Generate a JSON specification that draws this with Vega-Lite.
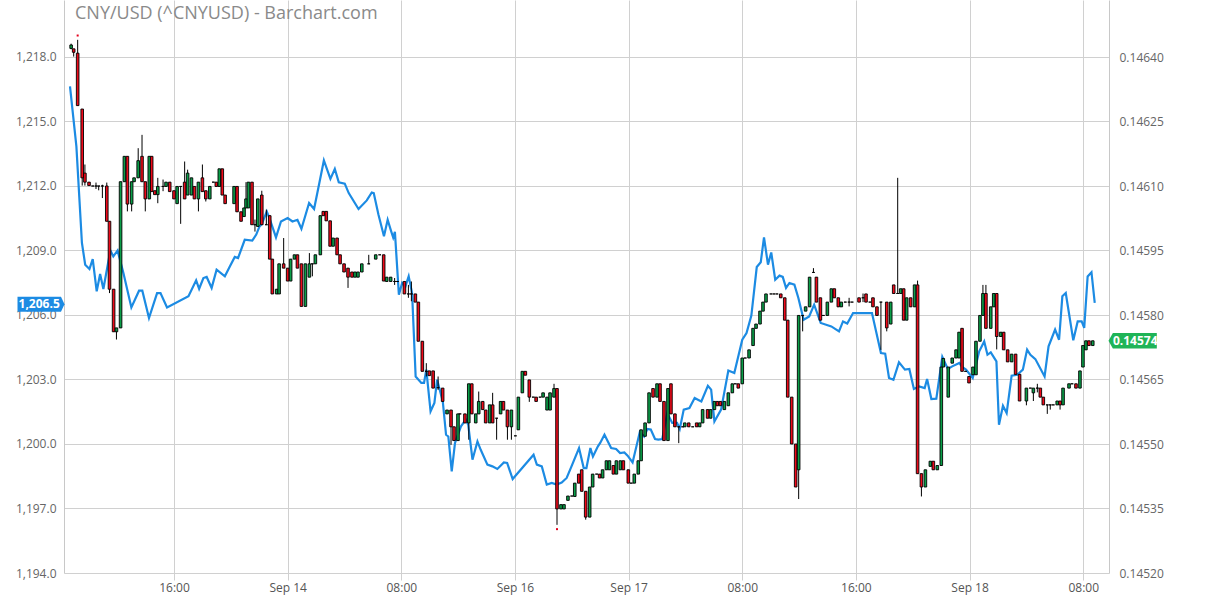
{
"$schema": "https://vega.github.io/schema/vega-lite/v6.json",
"width": 1045, "height": 573,
"autosize": {"type": "none"},
"padding": {"left": 64, "top": 0, "right": 103, "bottom": 23},
"background": "white",
"title": {"text": "CNY/USD (^CNYUSD) - Barchart.com", "anchor": "start", "frame": "group", "font": "Open Sans", "fontSize": 18, "fontWeight": "normal", "color": "#8a8a8a", "baseline": "alphabetic", "offset": 0, "dx": 11, "dy": 37},
"datasets": {
"gold": [
{"t":8.68,"v":1216.63},{"t":9.13,"v":1213.84},{"t":9.52,"v":1209.35},{"t":9.75,"v":1208.34},{"t":10.05,"v":1208.14},{"t":10.28,"v":1208.6},{"t":10.56,"v":1207.1},{"t":10.8,"v":1207.91},{"t":11.03,"v":1207.21},{"t":11.52,"v":1209.0},{"t":11.73,"v":1208.73},{"t":12.03,"v":1209.0},{"t":12.44,"v":1207.95},{"t":13.0,"v":1206.35},{"t":13.54,"v":1207.13},{"t":13.77,"v":1207.13},{"t":14.24,"v":1205.86},{"t":14.81,"v":1207.02},{"t":15.05,"v":1207.02},{"t":15.51,"v":1206.35},{"t":17.02,"v":1206.87},{"t":17.56,"v":1207.61},{"t":17.77,"v":1207.22},{"t":18.07,"v":1207.72},{"t":18.3,"v":1207.77},{"t":18.65,"v":1207.26},{"t":19.0,"v":1208.11},{"t":19.58,"v":1207.8},{"t":19.93,"v":1208.26},{"t":20.28,"v":1208.7},{"t":20.51,"v":1208.65},{"t":20.98,"v":1209.5},{"t":21.51,"v":1209.46},{"t":21.79,"v":1209.74},{"t":22.02,"v":1210.12},{"t":22.18,"v":1210.23},{"t":22.53,"v":1210.82},{"t":22.72,"v":1210.51},{"t":23.18,"v":1209.61},{"t":23.53,"v":1210.35},{"t":24.0,"v":1210.51},{"t":24.34,"v":1210.35},{"t":24.69,"v":1210.43},{"t":24.97,"v":1210.01},{"t":25.51,"v":1211.21},{"t":25.86,"v":1210.93},{"t":26.16,"v":1211.91},{"t":26.55,"v":1213.19},{"t":27.01,"v":1212.33},{"t":27.32,"v":1212.79},{"t":27.6,"v":1212.17},{"t":28.02,"v":1212.11},{"t":28.3,"v":1211.67},{"t":28.99,"v":1210.93},{"t":29.57,"v":1211.33},{"t":29.92,"v":1211.7},{"t":30.06,"v":1211.67},{"t":30.39,"v":1210.67},{"t":30.78,"v":1209.66},{"t":31.04,"v":1210.43},{"t":31.25,"v":1209.97},{"t":31.43,"v":1209.6},{"t":31.55,"v":1209.87},{"t":31.83,"v":1206.94},{"t":32.06,"v":1207.49},{"t":32.29,"v":1207.33},{"t":32.52,"v":1207.8},{"t":32.76,"v":1207.02},{"t":33.01,"v":1203.14},{"t":33.41,"v":1202.84},{"t":33.6,"v":1202.84},{"t":33.76,"v":1203.46},{"t":34.06,"v":1201.52},{"t":34.33,"v":1201.91},{"t":34.52,"v":1202.99},{"t":34.92,"v":1201.98},{"t":35.15,"v":1200.43},{"t":35.31,"v":1200.35},{"t":35.55,"v":1198.73},{"t":35.78,"v":1200.05},{"t":36.2,"v":1200.82},{"t":36.54,"v":1201.13},{"t":36.71,"v":1200.9},{"t":37.01,"v":1199.27},{"t":37.36,"v":1200.12},{"t":37.59,"v":1199.73},{"t":38.06,"v":1199.04},{"t":38.41,"v":1198.96},{"t":38.76,"v":1198.84},{"t":39.22,"v":1199.14},{"t":39.45,"v":1199.12},{"t":39.84,"v":1198.37},{"t":41.31,"v":1199.5},{"t":41.54,"v":1199.04},{"t":41.89,"v":1198.96},{"t":42.24,"v":1198.11},{"t":42.59,"v":1198.19},{"t":42.94,"v":1198.11},{"t":43.29,"v":1198.21},{"t":43.64,"v":1198.42},{"t":43.98,"v":1198.96},{"t":44.51,"v":1199.81},{"t":44.84,"v":1198.88},{"t":45.03,"v":1198.88},{"t":45.31,"v":1199.81},{"t":45.49,"v":1199.42},{"t":45.84,"v":1199.89},{"t":46.0,"v":1200.05},{"t":46.3,"v":1200.43},{"t":46.77,"v":1199.81},{"t":47.12,"v":1199.77},{"t":47.4,"v":1199.58},{"t":47.7,"v":1199.61},{"t":47.93,"v":1199.46},{"t":48.28,"v":1199.14},{"t":48.79,"v":1200.56},{"t":49.09,"v":1200.35},{"t":49.32,"v":1200.7},{"t":49.56,"v":1200.67},{"t":49.86,"v":1200.23},{"t":50.09,"v":1200.2},{"t":50.37,"v":1200.23},{"t":50.72,"v":1201.44},{"t":51.07,"v":1200.98},{"t":51.41,"v":1200.98},{"t":51.6,"v":1200.7},{"t":51.88,"v":1201.6},{"t":52.28,"v":1201.67},{"t":52.65,"v":1202.14},{"t":52.88,"v":1202.06},{"t":53.12,"v":1201.98},{"t":53.58,"v":1202.71},{"t":53.81,"v":1202.53},{"t":54.04,"v":1201.05},{"t":54.51,"v":1201.6},{"t":55.02,"v":1203.42},{"t":55.44,"v":1203.3},{"t":56.0,"v":1204.85},{"t":56.3,"v":1205.16},{"t":56.64,"v":1205.97},{"t":57.02,"v":1208.23},{"t":57.3,"v":1208.45},{"t":57.53,"v":1209.61},{"t":57.81,"v":1208.34},{"t":58.04,"v":1208.91},{"t":58.32,"v":1207.64},{"t":58.62,"v":1207.83},{"t":58.85,"v":1207.77},{"t":59.08,"v":1207.26},{"t":59.32,"v":1207.49},{"t":59.67,"v":1207.41},{"t":59.95,"v":1206.79},{"t":60.32,"v":1205.78},{"t":60.71,"v":1205.93},{"t":61.06,"v":1206.48},{"t":61.52,"v":1205.63},{"t":62.27,"v":1205.47},{"t":62.81,"v":1205.24},{"t":63.09,"v":1205.7},{"t":63.39,"v":1205.6},{"t":63.8,"v":1206.09},{"t":65.13,"v":1206.09},{"t":65.76,"v":1204.23},{"t":66.06,"v":1204.2},{"t":66.33,"v":1203.07},{"t":66.64,"v":1202.99},{"t":67.03,"v":1203.8},{"t":67.45,"v":1203.46},{"t":67.76,"v":1203.49},{"t":68.08,"v":1202.56},{"t":68.45,"v":1202.68},{"t":68.84,"v":1202.6},{"t":69.01,"v":1203.02},{"t":69.31,"v":1202.09},{"t":69.66,"v":1202.11},{"t":70.08,"v":1204.05},{"t":70.47,"v":1203.49},{"t":70.78,"v":1203.61},{"t":71.28,"v":1203.77},{"t":71.47,"v":1203.58},{"t":71.75,"v":1203.46},{"t":72.22,"v":1203.07},{"t":72.68,"v":1204.31},{"t":73.03,"v":1204.77},{"t":73.26,"v":1204.15},{"t":73.49,"v":1204.26},{"t":73.89,"v":1203.84},{"t":74.07,"v":1200.9},{"t":74.35,"v":1201.78},{"t":74.61,"v":1201.44},{"t":74.96,"v":1203.18},{"t":75.36,"v":1203.22},{"t":75.75,"v":1203.46},{"t":76.05,"v":1204.39},{"t":76.28,"v":1204.15},{"t":76.63,"v":1203.95},{"t":77.28,"v":1203.14},{"t":77.56,"v":1204.54},{"t":78.02,"v":1205.32},{"t":78.3,"v":1204.85},{"t":78.53,"v":1206.87},{"t":78.77,"v":1207.02},{"t":79.3,"v":1204.82},{"t":79.61,"v":1205.7},{"t":79.89,"v":1205.7},{"t":80.07,"v":1205.4},{"t":80.31,"v":1207.79},{"t":80.58,"v":1207.99},{"t":80.81,"v":1206.56}
],
"candles": [
{"t":8.76,"o":0.14642,"h":0.146431,"l":0.146418,"c":0.146428},
{"t":8.94,"o":0.146419,"h":0.146419,"l":0.146401,"c":0.146411},
{"t":9.22,"o":0.146409,"h":0.14644,"l":0.146287,"c":0.146287},
{"t":9.54,"o":0.146279,"h":0.146279,"l":0.146101,"c":0.146119},
{"t":9.73,"o":0.14613,"h":0.14615,"l":0.146101,"c":0.146109},
{"t":10.02,"o":0.146109,"h":0.146109,"l":0.146101,"c":0.146101},
{"t":10.28,"o":0.1461,"h":0.1461,"l":0.1461,"c":0.1461},
{"t":10.51,"o":0.1461,"h":0.146108,"l":0.146093,"c":0.1461},
{"t":10.7,"o":0.1461,"h":0.1461,"l":0.14609,"c":0.1461},
{"t":10.96,"o":0.1461,"h":0.146103,"l":0.146072,"c":0.1461},
{"t":11.27,"o":0.1461,"h":0.146108,"l":0.146018,"c":0.146018},
{"t":11.46,"o":0.146018,"h":0.146018,"l":0.145851,"c":0.14586},
{"t":11.75,"o":0.14586,"h":0.14586,"l":0.145761,"c":0.145761},
{"t":11.95,"o":0.145761,"h":0.14577,"l":0.145743,"c":0.14577},
{"t":12.24,"o":0.14577,"h":0.14611,"l":0.14577,"c":0.14611},
{"t":12.51,"o":0.14611,"h":0.146169,"l":0.14611,"c":0.146169},
{"t":12.72,"o":0.146169,"h":0.146169,"l":0.146041,"c":0.146058},
{"t":13.02,"o":0.146058,"h":0.14611,"l":0.146041,"c":0.14611},
{"t":13.19,"o":0.14611,"h":0.146119,"l":0.14611,"c":0.146119},
{"t":13.48,"o":0.146119,"h":0.146188,"l":0.146119,"c":0.146159},
{"t":13.75,"o":0.146169,"h":0.146219,"l":0.14611,"c":0.14611},
{"t":13.98,"o":0.14611,"h":0.14611,"l":0.146041,"c":0.14607},
{"t":14.26,"o":0.14607,"h":0.146169,"l":0.14607,"c":0.146169},
{"t":14.43,"o":0.146169,"h":0.146169,"l":0.146087,"c":0.146087},
{"t":14.65,"o":0.146089,"h":0.146089,"l":0.14608,"c":0.14608},
{"t":14.86,"o":0.14608,"h":0.146119,"l":0.14606,"c":0.146099},
{"t":15.23,"o":0.146099,"h":0.146115,"l":0.146088,"c":0.146099},
{"t":15.44,"o":0.146099,"h":0.146109,"l":0.146099,"c":0.146109},
{"t":15.7,"o":0.146109,"h":0.146109,"l":0.146087,"c":0.146087},
{"t":16.0,"o":0.146089,"h":0.146089,"l":0.14607,"c":0.14607},
{"t":16.22,"o":0.146059,"h":0.146099,"l":0.146059,"c":0.146099},
{"t":16.47,"o":0.146099,"h":0.146099,"l":0.146012,"c":0.146099},
{"t":16.75,"o":0.146109,"h":0.146157,"l":0.14607,"c":0.14607},
{"t":16.96,"o":0.146079,"h":0.146138,"l":0.146079,"c":0.14613},
{"t":17.23,"o":0.146079,"h":0.146119,"l":0.146079,"c":0.146119},
{"t":17.44,"o":0.146099,"h":0.146099,"l":0.14607,"c":0.14607},
{"t":17.72,"o":0.14607,"h":0.146109,"l":0.146041,"c":0.146109},
{"t":18.0,"o":0.146119,"h":0.14615,"l":0.146087,"c":0.146087},
{"t":18.24,"o":0.146089,"h":0.146089,"l":0.146064,"c":0.14607},
{"t":18.52,"o":0.14607,"h":0.146099,"l":0.14607,"c":0.146099},
{"t":18.77,"o":0.146109,"h":0.146109,"l":0.146109,"c":0.146109},
{"t":18.98,"o":0.146109,"h":0.146109,"l":0.146099,"c":0.146099},
{"t":19.19,"o":0.146099,"h":0.14614,"l":0.146099,"c":0.14614},
{"t":19.4,"o":0.14614,"h":0.14614,"l":0.146079,"c":0.146079},
{"t":19.6,"o":0.146079,"h":0.146079,"l":0.146059,"c":0.146059},
{"t":20.23,"o":0.146059,"h":0.146099,"l":0.146059,"c":0.146099},
{"t":20.44,"o":0.146099,"h":0.146099,"l":0.14604,"c":0.14604},
{"t":20.72,"o":0.14604,"h":0.14604,"l":0.146018,"c":0.146018},
{"t":20.93,"o":0.146029,"h":0.146049,"l":0.146029,"c":0.146049},
{"t":21.07,"o":0.146049,"h":0.146109,"l":0.146049,"c":0.14607},
{"t":21.24,"o":0.146049,"h":0.146109,"l":0.146049,"c":0.146109},
{"t":21.49,"o":0.146109,"h":0.146109,"l":0.14601,"c":0.14601},
{"t":21.7,"o":0.14601,"h":0.146022,"l":0.145994,"c":0.14601},
{"t":21.9,"o":0.146006,"h":0.14607,"l":0.146006,"c":0.14607},
{"t":22.18,"o":0.146079,"h":0.146089,"l":0.14601,"c":0.14601},
{"t":22.5,"o":0.14601,"h":0.146045,"l":0.14601,"c":0.14601},
{"t":22.74,"o":0.146031,"h":0.146031,"l":0.14593,"c":0.14593},
{"t":22.92,"o":0.14593,"h":0.14593,"l":0.145849,"c":0.145849},
{"t":23.23,"o":0.145849,"h":0.14586,"l":0.145849,"c":0.14586},
{"t":23.4,"o":0.145849,"h":0.145919,"l":0.145849,"c":0.145919},
{"t":23.72,"o":0.145919,"h":0.145979,"l":0.145909,"c":0.145909},
{"t":24.0,"o":0.145909,"h":0.145909,"l":0.145879,"c":0.145879},
{"t":24.21,"o":0.145879,"h":0.14593,"l":0.145879,"c":0.14593},
{"t":24.48,"o":0.14593,"h":0.14594,"l":0.14593,"c":0.14594},
{"t":24.69,"o":0.14594,"h":0.14594,"l":0.145909,"c":0.145909},
{"t":24.97,"o":0.145919,"h":0.145919,"l":0.14582,"c":0.14582},
{"t":25.25,"o":0.14582,"h":0.145919,"l":0.14582,"c":0.145919},
{"t":25.53,"o":0.145888,"h":0.145944,"l":0.145888,"c":0.145919},
{"t":25.74,"o":0.145919,"h":0.145919,"l":0.14589,"c":0.145919},
{"t":25.95,"o":0.145919,"h":0.14594,"l":0.145919,"c":0.14594},
{"t":26.3,"o":0.14594,"h":0.146031,"l":0.14594,"c":0.146031},
{"t":26.51,"o":0.146041,"h":0.146041,"l":0.146031,"c":0.146031},
{"t":26.72,"o":0.146041,"h":0.146041,"l":0.146019,"c":0.146019},
{"t":26.99,"o":0.146019,"h":0.146019,"l":0.14596,"c":0.14596},
{"t":27.2,"o":0.14596,"h":0.145979,"l":0.14596,"c":0.145979},
{"t":27.48,"o":0.145979,"h":0.145979,"l":0.14594,"c":0.14594},
{"t":27.69,"o":0.14594,"h":0.14594,"l":0.145919,"c":0.145919},
{"t":27.97,"o":0.145919,"h":0.145919,"l":0.1459,"c":0.1459},
{"t":28.25,"o":0.145909,"h":0.145909,"l":0.145863,"c":0.145888},
{"t":28.53,"o":0.1459,"h":0.1459,"l":0.145888,"c":0.145888},
{"t":28.74,"o":0.145888,"h":0.1459,"l":0.145888,"c":0.1459},
{"t":28.95,"o":0.145888,"h":0.1459,"l":0.145888,"c":0.1459},
{"t":29.22,"o":0.1459,"h":0.145919,"l":0.1459,"c":0.145919},
{"t":29.71,"o":0.145919,"h":0.14594,"l":0.145919,"c":0.145919},
{"t":30.2,"o":0.14593,"h":0.14594,"l":0.14593,"c":0.14594},
{"t":30.48,"o":0.14594,"h":0.14594,"l":0.14594,"c":0.14594},
{"t":30.76,"o":0.14594,"h":0.14594,"l":0.145879,"c":0.145879},
{"t":30.97,"o":0.145878,"h":0.145888,"l":0.145878,"c":0.145888},
{"t":31.25,"o":0.145878,"h":0.145888,"l":0.145878,"c":0.145888},
{"t":31.53,"o":0.145878,"h":0.145886,"l":0.14587,"c":0.145878},
{"t":31.73,"o":0.145878,"h":0.145878,"l":0.145878,"c":0.145878},
{"t":32.22,"o":0.145878,"h":0.145878,"l":0.145849,"c":0.145849},
{"t":32.5,"o":0.145849,"h":0.14587,"l":0.14584,"c":0.145849},
{"t":32.71,"o":0.145849,"h":0.145878,"l":0.145832,"c":0.145849},
{"t":32.99,"o":0.145849,"h":0.145849,"l":0.14583,"c":0.14583},
{"t":33.2,"o":0.14583,"h":0.14583,"l":0.145739,"c":0.145739},
{"t":33.48,"o":0.145739,"h":0.145739,"l":0.145669,"c":0.145669},
{"t":33.76,"o":0.145669,"h":0.145688,"l":0.145657,"c":0.145669},
{"t":33.97,"o":0.14567,"h":0.14567,"l":0.145659,"c":0.145659},
{"t":34.24,"o":0.14567,"h":0.14567,"l":0.14563,"c":0.14563},
{"t":34.59,"o":0.145631,"h":0.145657,"l":0.145626,"c":0.145631},
{"t":34.91,"o":0.14563,"h":0.14563,"l":0.145599,"c":0.145599},
{"t":35.22,"o":0.14557,"h":0.145579,"l":0.14557,"c":0.145579},
{"t":35.5,"o":0.145579,"h":0.145579,"l":0.145498,"c":0.14554},
{"t":35.71,"o":0.14554,"h":0.14554,"l":0.145508,"c":0.145508},
{"t":35.99,"o":0.145508,"h":0.14557,"l":0.145508,"c":0.14557},
{"t":36.13,"o":0.14557,"h":0.14557,"l":0.14557,"c":0.14557},
{"t":36.48,"o":0.14557,"h":0.14557,"l":0.145549,"c":0.145549},
{"t":36.75,"o":0.145549,"h":0.14564,"l":0.14551,"c":0.14564},
{"t":36.96,"o":0.14564,"h":0.14564,"l":0.14557,"c":0.14557},
{"t":37.24,"o":0.145549,"h":0.14557,"l":0.145549,"c":0.14557},
{"t":37.45,"o":0.14557,"h":0.145622,"l":0.14557,"c":0.145599},
{"t":37.73,"o":0.145599,"h":0.145599,"l":0.14558,"c":0.14558},
{"t":37.94,"o":0.145579,"h":0.145579,"l":0.145549,"c":0.145549},
{"t":38.22,"o":0.145549,"h":0.145591,"l":0.145549,"c":0.145591},
{"t":38.43,"o":0.145591,"h":0.145619,"l":0.145549,"c":0.145549},
{"t":38.71,"o":0.14556,"h":0.14556,"l":0.14551,"c":0.14556},
{"t":38.99,"o":0.14557,"h":0.145599,"l":0.14557,"c":0.145599},
{"t":39.19,"o":0.145599,"h":0.145599,"l":0.145579,"c":0.145579},
{"t":39.47,"o":0.145579,"h":0.145579,"l":0.14551,"c":0.14554},
{"t":39.75,"o":0.14554,"h":0.145579,"l":0.14551,"c":0.145579},
{"t":40.03,"o":0.145519,"h":0.145519,"l":0.145519,"c":0.145519},
{"t":40.24,"o":0.145533,"h":0.145609,"l":0.145533,"c":0.145609},
{"t":40.52,"o":0.145619,"h":0.145669,"l":0.145619,"c":0.145669},
{"t":40.73,"o":0.145669,"h":0.145669,"l":0.14566,"c":0.14566},
{"t":41.01,"o":0.145649,"h":0.145649,"l":0.145598,"c":0.145609},
{"t":41.29,"o":0.145609,"h":0.145609,"l":0.145609,"c":0.145609},
{"t":41.49,"o":0.145609,"h":0.145609,"l":0.145599,"c":0.145599},
{"t":41.77,"o":0.145609,"h":0.145609,"l":0.145609,"c":0.145609},
{"t":41.98,"o":0.145609,"h":0.145619,"l":0.145609,"c":0.145619},
{"t":42.26,"o":0.145579,"h":0.145609,"l":0.145579,"c":0.145609},
{"t":42.47,"o":0.145579,"h":0.145619,"l":0.145579,"c":0.145619},
{"t":42.75,"o":0.145609,"h":0.14564,"l":0.145609,"c":0.145629},
{"t":42.96,"o":0.145629,"h":0.145629,"l":0.145312,"c":0.145349},
{"t":43.24,"o":0.145349,"h":0.145359,"l":0.145349,"c":0.145359},
{"t":43.45,"o":0.145349,"h":0.145359,"l":0.145349,"c":0.145359},
{"t":43.73,"o":0.145369,"h":0.145379,"l":0.145369,"c":0.145379},
{"t":44.0,"o":0.145379,"h":0.145379,"l":0.145379,"c":0.145379},
{"t":44.21,"o":0.145378,"h":0.145409,"l":0.145378,"c":0.145409},
{"t":44.49,"o":0.14543,"h":0.14543,"l":0.145409,"c":0.145409},
{"t":44.7,"o":0.14544,"h":0.14544,"l":0.14539,"c":0.14539},
{"t":44.98,"o":0.14539,"h":0.14539,"l":0.145324,"c":0.14533},
{"t":45.26,"o":0.14533,"h":0.1454,"l":0.14533,"c":0.1454},
{"t":45.47,"o":0.1454,"h":0.14543,"l":0.1454,"c":0.14543},
{"t":45.75,"o":0.14543,"h":0.14543,"l":0.14543,"c":0.14543},
{"t":45.96,"o":0.14543,"h":0.14543,"l":0.145421,"c":0.145421},
{"t":46.17,"o":0.145421,"h":0.14544,"l":0.145421,"c":0.14544},
{"t":46.44,"o":0.14544,"h":0.145461,"l":0.14544,"c":0.145461},
{"t":46.65,"o":0.14544,"h":0.145461,"l":0.14544,"c":0.145461},
{"t":46.93,"o":0.14545,"h":0.14545,"l":0.14543,"c":0.14543},
{"t":47.14,"o":0.14543,"h":0.145461,"l":0.14543,"c":0.145461},
{"t":47.42,"o":0.14544,"h":0.145461,"l":0.14544,"c":0.145461},
{"t":47.63,"o":0.145461,"h":0.145461,"l":0.14544,"c":0.14544},
{"t":47.98,"o":0.14544,"h":0.14544,"l":0.145409,"c":0.145409},
{"t":48.19,"o":0.145409,"h":0.145409,"l":0.145409,"c":0.145409},
{"t":48.4,"o":0.145409,"h":0.14543,"l":0.145409,"c":0.14543},
{"t":48.68,"o":0.14543,"h":0.145461,"l":0.14543,"c":0.145461},
{"t":48.88,"o":0.145461,"h":0.145533,"l":0.145461,"c":0.145533},
{"t":49.16,"o":0.145518,"h":0.145549,"l":0.145518,"c":0.145549},
{"t":49.44,"o":0.145549,"h":0.145619,"l":0.145549,"c":0.145619},
{"t":49.72,"o":0.145629,"h":0.145629,"l":0.145609,"c":0.145609},
{"t":50.0,"o":0.145609,"h":0.14564,"l":0.145609,"c":0.14564},
{"t":50.21,"o":0.14564,"h":0.14564,"l":0.145599,"c":0.145599},
{"t":50.49,"o":0.145599,"h":0.145599,"l":0.145508,"c":0.145508},
{"t":50.77,"o":0.145508,"h":0.145629,"l":0.145508,"c":0.145629},
{"t":50.98,"o":0.14564,"h":0.14564,"l":0.14557,"c":0.14557},
{"t":51.26,"o":0.14557,"h":0.14557,"l":0.14554,"c":0.14554},
{"t":51.53,"o":0.14554,"h":0.14554,"l":0.145502,"c":0.14554},
{"t":51.81,"o":0.14554,"h":0.14554,"l":0.14554,"c":0.14554},
{"t":51.95,"o":0.14554,"h":0.145549,"l":0.14554,"c":0.145549},
{"t":52.23,"o":0.145549,"h":0.145549,"l":0.14554,"c":0.14554},
{"t":52.51,"o":0.14554,"h":0.14554,"l":0.14554,"c":0.14554},
{"t":52.79,"o":0.145549,"h":0.145549,"l":0.14554,"c":0.14554},
{"t":53.0,"o":0.14554,"h":0.145549,"l":0.14554,"c":0.145549},
{"t":53.21,"o":0.145549,"h":0.14558,"l":0.145549,"c":0.14558},
{"t":53.56,"o":0.14558,"h":0.14558,"l":0.14556,"c":0.14556},
{"t":53.77,"o":0.14556,"h":0.14558,"l":0.14556,"c":0.14558},
{"t":54.04,"o":0.14558,"h":0.145599,"l":0.14558,"c":0.145599},
{"t":54.25,"o":0.145599,"h":0.145599,"l":0.145589,"c":0.145589},
{"t":54.46,"o":0.145599,"h":0.145599,"l":0.145589,"c":0.145589},
{"t":54.74,"o":0.14558,"h":0.145599,"l":0.14558,"c":0.145599},
{"t":55.02,"o":0.145589,"h":0.145619,"l":0.145589,"c":0.145619},
{"t":55.3,"o":0.145619,"h":0.14564,"l":0.145619,"c":0.14564},
{"t":55.51,"o":0.14564,"h":0.14564,"l":0.14564,"c":0.14564},
{"t":55.72,"o":0.14564,"h":0.14564,"l":0.14563,"c":0.14563},
{"t":56.0,"o":0.14564,"h":0.1457,"l":0.14564,"c":0.1457},
{"t":56.21,"o":0.1457,"h":0.1457,"l":0.1457,"c":0.1457},
{"t":56.48,"o":0.1457,"h":0.145719,"l":0.1457,"c":0.145719},
{"t":56.76,"o":0.145729,"h":0.145769,"l":0.145729,"c":0.145769},
{"t":56.97,"o":0.145769,"h":0.145779,"l":0.145769,"c":0.145779},
{"t":57.25,"o":0.145779,"h":0.145809,"l":0.145779,"c":0.145809},
{"t":57.46,"o":0.145809,"h":0.14583,"l":0.145809,"c":0.14583},
{"t":57.67,"o":0.14583,"h":0.145849,"l":0.14583,"c":0.145849},
{"t":58.02,"o":0.145849,"h":0.145849,"l":0.145849,"c":0.145849},
{"t":58.23,"o":0.145849,"h":0.145849,"l":0.145849,"c":0.145849},
{"t":58.44,"o":0.145849,"h":0.145849,"l":0.145849,"c":0.145849},
{"t":58.71,"o":0.145849,"h":0.145849,"l":0.14584,"c":0.14584},
{"t":58.99,"o":0.14584,"h":0.14584,"l":0.145788,"c":0.145788},
{"t":59.2,"o":0.145788,"h":0.145788,"l":0.145609,"c":0.145609},
{"t":59.48,"o":0.145609,"h":0.145609,"l":0.1455,"c":0.1455},
{"t":59.76,"o":0.1455,"h":0.1455,"l":0.1454,"c":0.1454},
{"t":59.97,"o":0.14544,"h":0.145799,"l":0.145372,"c":0.145799},
{"t":60.25,"o":0.145799,"h":0.145799,"l":0.145762,"c":0.145799},
{"t":60.46,"o":0.145809,"h":0.145819,"l":0.145809,"c":0.145819},
{"t":60.74,"o":0.145819,"h":0.145888,"l":0.145819,"c":0.145888},
{"t":61.01,"o":0.145899,"h":0.145909,"l":0.145899,"c":0.145899},
{"t":61.22,"o":0.145888,"h":0.145888,"l":0.14583,"c":0.14583},
{"t":61.5,"o":0.14584,"h":0.14584,"l":0.145788,"c":0.145788},
{"t":61.71,"o":0.145799,"h":0.145799,"l":0.145799,"c":0.145799},
{"t":61.99,"o":0.145799,"h":0.14583,"l":0.145799,"c":0.14583},
{"t":62.27,"o":0.14583,"h":0.145861,"l":0.14583,"c":0.145861},
{"t":62.48,"o":0.145861,"h":0.145861,"l":0.14584,"c":0.14584},
{"t":62.76,"o":0.14584,"h":0.14584,"l":0.145819,"c":0.145819},
{"t":62.97,"o":0.145819,"h":0.14583,"l":0.145819,"c":0.14583},
{"t":63.25,"o":0.14583,"h":0.14583,"l":0.14583,"c":0.14583},
{"t":63.52,"o":0.14583,"h":0.14584,"l":0.14582,"c":0.14583},
{"t":63.73,"o":0.14583,"h":0.14583,"l":0.14583,"c":0.14583},
{"t":64.22,"o":0.14584,"h":0.14584,"l":0.14583,"c":0.14583},
{"t":64.5,"o":0.14584,"h":0.14585,"l":0.14583,"c":0.14584},
{"t":64.71,"o":0.145849,"h":0.145849,"l":0.14583,"c":0.14583},
{"t":64.99,"o":0.14583,"h":0.14583,"l":0.14583,"c":0.14583},
{"t":65.2,"o":0.14584,"h":0.14584,"l":0.145819,"c":0.145819},
{"t":65.48,"o":0.145819,"h":0.145819,"l":0.145799,"c":0.145799},
{"t":65.76,"o":0.14583,"h":0.14583,"l":0.145719,"c":0.14583},
{"t":66.17,"o":0.14583,"h":0.14583,"l":0.145762,"c":0.14577},
{"t":66.45,"o":0.145779,"h":0.14583,"l":0.145779,"c":0.14583},
{"t":66.66,"o":0.14587,"h":0.14587,"l":0.14585,"c":0.14585},
{"t":66.94,"o":0.14585,"h":0.146119,"l":0.14585,"c":0.14585},
{"t":67.15,"o":0.14585,"h":0.145861,"l":0.14585,"c":0.145861},
{"t":67.36,"o":0.145861,"h":0.145861,"l":0.145788,"c":0.145788},
{"t":67.57,"o":0.145788,"h":0.14584,"l":0.145788,"c":0.14584},
{"t":67.85,"o":0.14584,"h":0.14584,"l":0.145819,"c":0.145819},
{"t":68.13,"o":0.145819,"h":0.14587,"l":0.145819,"c":0.14587},
{"t":68.34,"o":0.14587,"h":0.14588,"l":0.145431,"c":0.145431},
{"t":68.61,"o":0.145431,"h":0.145431,"l":0.145378,"c":0.1454},
{"t":68.89,"o":0.1454,"h":0.14544,"l":0.1454,"c":0.14544},
{"t":69.24,"o":0.145448,"h":0.14546,"l":0.145448,"c":0.14546},
{"t":69.45,"o":0.14546,"h":0.14546,"l":0.14544,"c":0.14544},
{"t":69.73,"o":0.14544,"h":0.14545,"l":0.14544,"c":0.14545},
{"t":70.01,"o":0.14545,"h":0.145679,"l":0.14545,"c":0.145679},
{"t":70.15,"o":0.145679,"h":0.145699,"l":0.145679,"c":0.145699},
{"t":70.5,"o":0.145609,"h":0.145679,"l":0.145609,"c":0.145679},
{"t":70.78,"o":0.145688,"h":0.1457,"l":0.145688,"c":0.1457},
{"t":71.05,"o":0.1457,"h":0.145719,"l":0.1457,"c":0.145719},
{"t":71.26,"o":0.1457,"h":0.14576,"l":0.1457,"c":0.14576},
{"t":71.47,"o":0.145769,"h":0.145769,"l":0.145669,"c":0.145669},
{"t":71.72,"o":0.145669,"h":0.145669,"l":0.145669,"c":0.145669},
{"t":71.96,"o":0.145657,"h":0.145657,"l":0.145642,"c":0.145642},
{"t":72.24,"o":0.145661,"h":0.145679,"l":0.145661,"c":0.145679},
{"t":72.45,"o":0.145661,"h":0.145739,"l":0.145661,"c":0.145739},
{"t":72.73,"o":0.145739,"h":0.145799,"l":0.145739,"c":0.145799},
{"t":72.94,"o":0.145799,"h":0.14587,"l":0.145799,"c":0.14585},
{"t":73.15,"o":0.14585,"h":0.14587,"l":0.145769,"c":0.145769},
{"t":73.49,"o":0.145769,"h":0.145819,"l":0.145769,"c":0.145819},
{"t":73.7,"o":0.145819,"h":0.14585,"l":0.145819,"c":0.14585},
{"t":73.91,"o":0.14585,"h":0.14585,"l":0.14572,"c":0.14575},
{"t":74.19,"o":0.14575,"h":0.14576,"l":0.14575,"c":0.14576},
{"t":74.4,"o":0.14576,"h":0.14576,"l":0.145719,"c":0.145719},
{"t":74.68,"o":0.145719,"h":0.145719,"l":0.145691,"c":0.145691},
{"t":74.96,"o":0.145691,"h":0.145709,"l":0.145691,"c":0.145709},
{"t":75.24,"o":0.145709,"h":0.145709,"l":0.145662,"c":0.145662},
{"t":75.52,"o":0.145662,"h":0.145662,"l":0.1456,"c":0.1456},
{"t":76.0,"o":0.1456,"h":0.14563,"l":0.14559,"c":0.14563},
{"t":76.28,"o":0.14563,"h":0.14563,"l":0.14563,"c":0.14563},
{"t":76.49,"o":0.145619,"h":0.14563,"l":0.1456,"c":0.14563},
{"t":76.77,"o":0.14563,"h":0.14564,"l":0.14562,"c":0.14563},
{"t":76.98,"o":0.14563,"h":0.14563,"l":0.145609,"c":0.145609},
{"t":77.19,"o":0.145609,"h":0.145609,"l":0.145591,"c":0.145591},
{"t":77.47,"o":0.145591,"h":0.145591,"l":0.14557,"c":0.145591},
{"t":77.68,"o":0.145591,"h":0.145591,"l":0.14558,"c":0.145591},
{"t":77.89,"o":0.145591,"h":0.145591,"l":0.145591,"c":0.145591},
{"t":78.17,"o":0.145591,"h":0.1456,"l":0.145591,"c":0.1456},
{"t":78.37,"o":0.1456,"h":0.1456,"l":0.14558,"c":0.145591},
{"t":78.58,"o":0.145591,"h":0.14563,"l":0.145591,"c":0.14563},
{"t":79.0,"o":0.14563,"h":0.14564,"l":0.14563,"c":0.14564},
{"t":79.21,"o":0.14564,"h":0.14564,"l":0.14564,"c":0.14564},
{"t":79.49,"o":0.14564,"h":0.14564,"l":0.14563,"c":0.14563},
{"t":79.77,"o":0.14563,"h":0.14567,"l":0.14563,"c":0.14567},
{"t":79.98,"o":0.145679,"h":0.145729,"l":0.145679,"c":0.145729},
{"t":80.19,"o":0.145719,"h":0.14574,"l":0.145719,"c":0.14574},
{"t":80.4,"o":0.14574,"h":0.14574,"l":0.145729,"c":0.145729},
{"t":80.67,"o":0.145729,"h":0.14574,"l":0.145729,"c":0.14574}
],
"extremes": [{"t":9.22,"p":0.14645},{"t":42.96,"p":0.145302}],
"goldTag": [{"v": 1206.5, "label": "1,206.5"}],
"cnyTag": [{"p": 0.14574, "label": "0.14574"}]
},
"layer": [
{"layer": [
{"data": {"name": "gold"}, "mark": {"type": "line", "color": "#1c8be3", "strokeWidth": 2.2},
"encoding": {
"x": {"field": "t", "type": "quantitative", "scale": {"domain": [8.61, 81.462], "nice": false, "zero": false},
"axis": {"title": null, "values": [16,24,32,40,48,56,64,72,80], "labelExpr": "['16:00','Sep 14','08:00','Sep 16','Sep 17','08:00','16:00','Sep 18','08:00'][round((datum.value-16)/8)]", "grid": true, "gridColor": "#d0d0d0", "domain": false, "ticks": true, "tickSize": 7, "tickColor": "#d0d0d0", "labelPadding": 2, "labelFont": "Open Sans", "labelFontSize": 12, "labelColor": "#555"}},
"y": {"field": "v", "type": "quantitative", "scale": {"domain": [1194, 1220.651], "nice": false, "zero": false},
"axis": {"title": null, "orient": "left", "values": [1194,1197,1200,1203,1206,1209,1212,1215,1218], "format": ",.1f", "grid": true, "gridColor": "#d0d0d0", "domain": true, "domainColor": "#c8c8c8", "ticks": false, "labelPadding": 8, "labelFont": "Open Sans", "labelFontSize": 12, "labelColor": "#666"}}}},
{"data": {"name": "goldTag"}, "mark": {"type": "point", "shape": "M-1,-0.32L0.85,-0.32L1,0L0.85,0.32L-1,0.32Z", "size": 2209, "filled": true, "color": "#1c8be3", "opacity": 1, "clip": false},
"encoding": {"x": {"datum": 6.64, "type": "quantitative"}, "y": {"field": "v", "type": "quantitative"}}},
{"data": {"name": "goldTag"}, "mark": {"type": "text", "font": "Open Sans", "fontWeight": "bold", "fontSize": 12, "color": "white", "align": "center", "baseline": "middle", "clip": false},
"encoding": {"x": {"datum": 6.51, "type": "quantitative"}, "y": {"field": "v", "type": "quantitative"}, "text": {"field": "label"}}}
]},
{"layer": [
{"data": {"name": "candles"}, "mark": {"type": "rule", "color": "#000", "strokeWidth": 1},
"encoding": {"x": {"field": "t", "type": "quantitative"},
"y": {"field": "l", "type": "quantitative", "scale": {"domain": [0.1452, 0.1465326], "nice": false, "zero": false},
"axis": {"title": null, "orient": "right", "values": [0.1452,0.14535,0.1455,0.14565,0.1458,0.14595,0.1461,0.14625,0.1464], "format": ".5f", "grid": false, "domain": true, "domainColor": "#c8c8c8", "ticks": false, "labelPadding": 10, "labelFont": "Open Sans", "labelFontSize": 12, "labelColor": "#666"}},
"y2": {"field": "h"}}},
{"data": {"name": "candles"}, "mark": {"type": "bar", "width": 2.6, "stroke": "#000", "strokeWidth": 0.9},
"encoding": {"x": {"field": "t", "type": "quantitative"}, "y": {"field": "o", "type": "quantitative"}, "y2": {"field": "c"},
"fill": {"condition": {"test": "datum.c > datum.o", "value": "#0a9e48"}, "value": "#ee0a1a"}}},
{"data": {"name": "extremes"}, "mark": {"type": "point", "shape": "square", "size": 4, "filled": true, "color": "#e5001c", "opacity": 1},
"encoding": {"x": {"field": "t", "type": "quantitative"}, "y": {"field": "p", "type": "quantitative"}}},
{"data": {"name": "cnyTag"}, "mark": {"type": "point", "shape": "M-1,0L-0.82,-0.32L1,-0.32L1,0.32L-0.82,0.32Z", "size": 2333, "filled": true, "color": "#1fb457", "opacity": 1, "clip": false},
"encoding": {"x": {"datum": 83.48, "type": "quantitative"}, "y": {"field": "p", "type": "quantitative"}}},
{"data": {"name": "cnyTag"}, "mark": {"type": "text", "font": "Open Sans", "fontWeight": "bold", "fontSize": 12, "color": "white", "align": "center", "baseline": "middle", "clip": false},
"encoding": {"x": {"datum": 83.66, "type": "quantitative"}, "y": {"field": "p", "type": "quantitative"}, "text": {"field": "label"}}}
]}
],
"resolve": {"scale": {"y": "independent"}, "axis": {"y": "independent"}},
"config": {"view": {"stroke": null}}
}
